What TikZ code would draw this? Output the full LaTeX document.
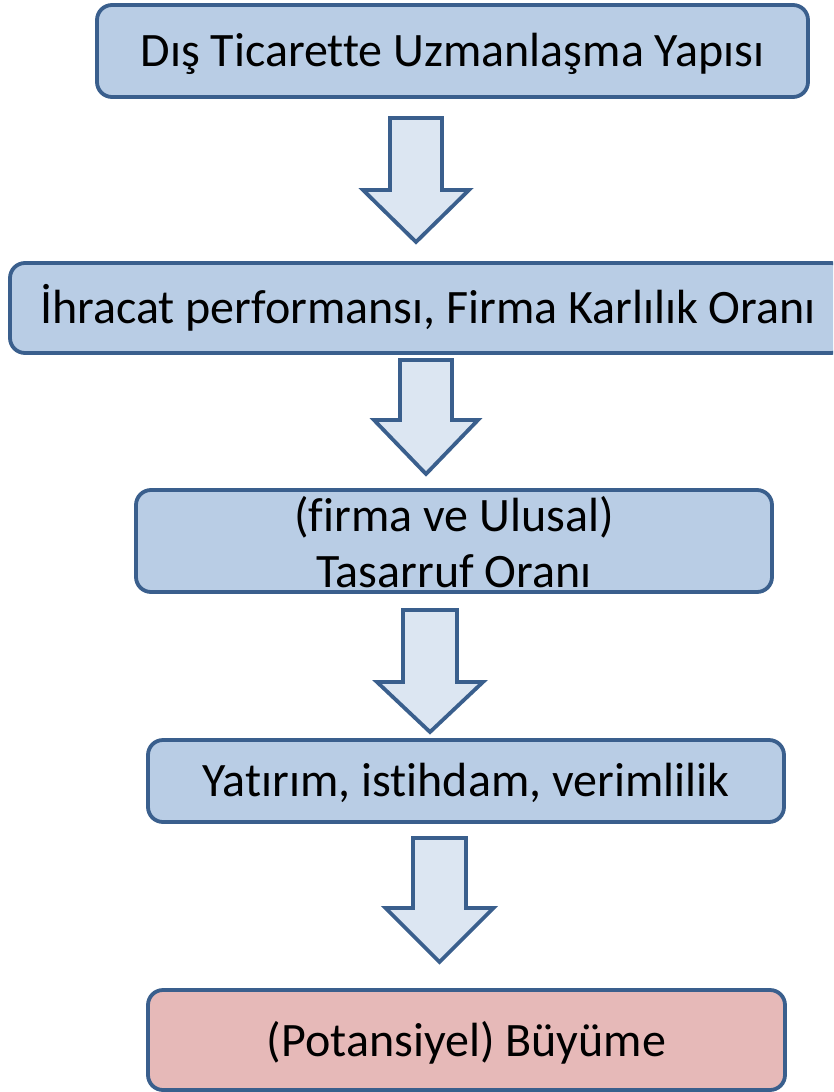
\documentclass[tikz,border=0pt]{standalone}
\usepackage{fontspec}
\setmainfont[Ligatures={NoCommon}]{Carlito}
\definecolor{bordc}{HTML}{3A5F8D}
\definecolor{boxfill}{HTML}{B9CDE5}
\definecolor{arrfill}{HTML}{DCE6F2}
\definecolor{redfill}{HTML}{E6B9B8}
\newcommand{\blkarrow}[7]{% name, cx, ytop, ybase, ytip, shaft half, head half
  \draw[arrowstyle] (#2-#6,#3) -- (#2+#6,#3) -- (#2+#6,#4) -- (#2+#7,#4) -- (#2,#5) coordinate (#1) -- (#2-#7,#4) -- (#2-#6,#4) -- cycle;}
\begin{document}
\begin{tikzpicture}[x=1pt,y=-1pt,
  flowbox/.style={draw=bordc, line width=3.8pt, fill=boxfill, rounded corners=15pt, inner sep=0pt, align=center,
     font=\fontsize{48}{56}\selectfont, text height=34pt, text depth=3pt},
  arrowstyle/.style={draw=bordc, line width=3.8pt, fill=arrfill, line join=miter}]
\useasboundingbox (0,0) rectangle (833,1092);
\clip (0,0) rectangle (833,1092);
\fill[white] (0,0) rectangle (833,1092);
\node[flowbox, minimum width=711pt, minimum height=92pt] (b1) at (452.5,51) {Dış Ticarette Uzmanlaşma Yapısı};
\node[flowbox, minimum width=836pt, minimum height=90pt] (b2) at (428,308) {İhracat performansı, Firma Karlılık Oranı};
\node[flowbox, minimum width=636pt, minimum height=102pt, text height=96pt] (b3) at (454,541) {(firma ve Ulusal)\\Tasarruf Oranı};
\node[flowbox, minimum width=636pt, minimum height=82pt] (b4) at (466,781) {Yatırım, istihdam, verimlilik};
\node[flowbox, fill=redfill, minimum width=637pt, minimum height=100pt, text height=36pt] (b5) at (466.5,1040) {(Potansiyel) Büyüme};
\blkarrow{a1}{416}{118}{190}{242}{26}{53}
\blkarrow{a2}{426}{360}{420}{474}{26}{52}
\blkarrow{a3}{430}{610}{682}{732}{27}{53}
\blkarrow{a4}{439.5}{838}{908}{962}{26.5}{54}
\end{tikzpicture}
\end{document}
